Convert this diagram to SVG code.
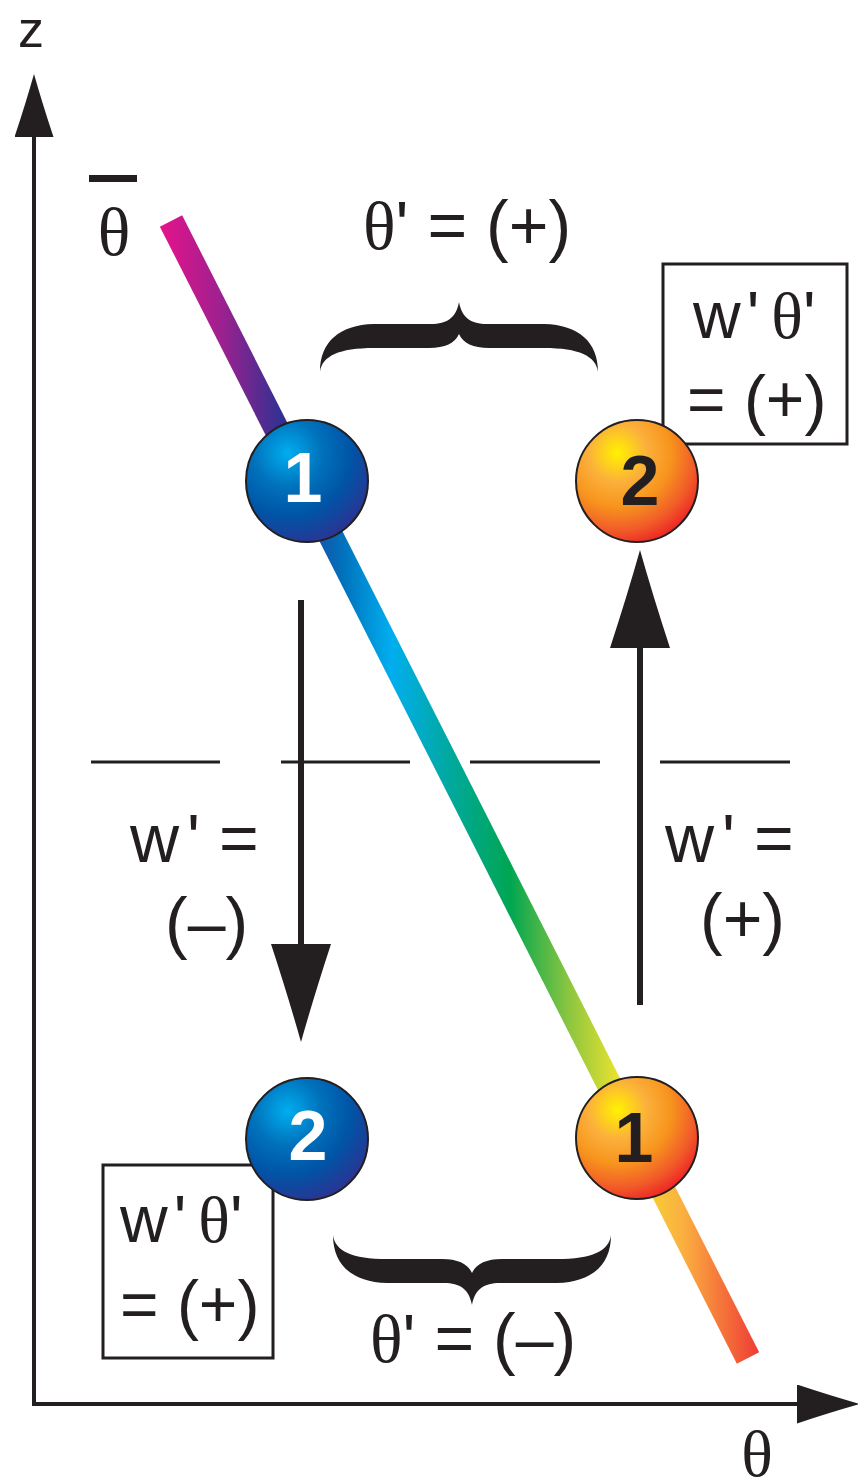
<svg xmlns="http://www.w3.org/2000/svg" width="858" height="1480" viewBox="0 0 858 1480">
<style>
.sans{font-family:"Liberation Sans",Arial,Helvetica,sans-serif;fill:#231f20}
.serif{font-family:"Liberation Serif","Times New Roman",serif}
.num{font-family:"Liberation Sans",Arial,Helvetica,sans-serif;font-weight:bold;font-size:70px;text-anchor:middle}
.lbl{font-size:68px}
.ax{stroke:#231f20;stroke-width:4;fill:none}
.arr{stroke:#231f20;stroke-width:6;fill:none}
.dash{stroke:#231f20;stroke-width:3}
.box{fill:#fff;stroke:#231f20;stroke-width:3}
.ball{stroke:#231f20;stroke-width:2}
</style>
<defs>
<linearGradient id="barGrad" gradientUnits="userSpaceOnUse" x1="165" y1="0" x2="760" y2="0">
<stop offset="0" stop-color="#e0148c"/>
<stop offset="0.09" stop-color="#a1208f"/>
<stop offset="0.2" stop-color="#2e3192"/>
<stop offset="0.3" stop-color="#0072bc"/>
<stop offset="0.38" stop-color="#00aeef"/>
<stop offset="0.48" stop-color="#00a99d"/>
<stop offset="0.58" stop-color="#00a651"/>
<stop offset="0.68" stop-color="#8dc63f"/>
<stop offset="0.77" stop-color="#f2e52e"/>
<stop offset="0.87" stop-color="#fbb040"/>
<stop offset="1" stop-color="#ef3a35"/>
</linearGradient>
<radialGradient id="blue" cx="0.34" cy="0.27" r="0.8" fx="0.34" fy="0.27">
<stop offset="0" stop-color="#00aeef"/>
<stop offset="0.35" stop-color="#0072bc"/>
<stop offset="0.65" stop-color="#0054a6"/>
<stop offset="1" stop-color="#2e3192"/>
</radialGradient>
<radialGradient id="orange" cx="0.34" cy="0.27" r="0.8" fx="0.34" fy="0.27">
<stop offset="0" stop-color="#fff200"/>
<stop offset="0.3" stop-color="#fbb03b"/>
<stop offset="0.55" stop-color="#f7941d"/>
<stop offset="0.8" stop-color="#f15a29"/>
<stop offset="1" stop-color="#ed1c24"/>
</radialGradient>
<marker id="head" markerUnits="userSpaceOnUse" viewBox="0 0 98 60" markerWidth="98" markerHeight="60" refX="0" refY="30" orient="auto">
<path d="M0,0 Q52,17 98,30 Q52,43 0,60 Z" fill="#231f20"/>
</marker>
<marker id="axhead" markerUnits="userSpaceOnUse" viewBox="0 0 63 39" markerWidth="63" markerHeight="39" refX="0" refY="19.5" orient="auto">
<path d="M0,0 Q33,11 63,19.5 Q33,28 0,39 Z" fill="#231f20"/>
</marker>
<path id="brace" d="M-139,0 C-139,-30 -120,-47 -85,-48 L-28,-48 C-12,-48 -3,-54 0,-70 C3,-54 12,-48 28,-48 L85,-48 C120,-47 139,-30 139,0 C137,-16 120,-24 85,-24 L30,-24 C14,-24 4,-29 0,-38 C-4,-29 -14,-24 -30,-24 L-85,-24 C-120,-24 -137,-16 -139,0 Z" fill="#231f20"/>
</defs>
<rect width="858" height="1480" fill="#fff"/>

<g id="axes">
<line class="ax" x1="34" y1="1406" x2="34" y2="137" marker-end="url(#axhead)"/>
<line class="ax" x1="32" y1="1404" x2="797" y2="1404" marker-end="url(#axhead)"/>
<text class="sans" x="18" y="47" font-size="52">z</text>
<text class="sans" x="757" y="1476" font-size="66" text-anchor="middle"><tspan class="serif">θ</tspan></text>
<rect x="89" y="175" width="48" height="7" fill="#231f20"/>
<text class="sans" x="114" y="255" font-size="68" text-anchor="middle"><tspan class="serif">θ</tspan></text>
</g>

<g id="dashes">
<line class="dash" x1="91" y1="762" x2="220" y2="762"/>
<line class="dash" x1="281" y1="762" x2="410" y2="762"/>
<line class="dash" x1="470" y1="762" x2="600" y2="762"/>
<line class="dash" x1="660" y1="762" x2="790" y2="762"/>
</g>

<g id="profile">
<line x1="171" y1="221" x2="748" y2="1358" stroke="url(#barGrad)" stroke-width="25"/>
</g>

<g id="connectors">
<line class="arr" x1="301" y1="600" x2="301" y2="944" marker-end="url(#head)"/>
<line class="arr" x1="640" y1="1005" x2="640" y2="648" marker-end="url(#head)"/>
</g>

<g id="braces">
<use href="#brace" transform="translate(459,372)"/>
<use href="#brace" transform="translate(472,1235) scale(1,-1)"/>
<text class="sans lbl" x="363" y="249"><tspan class="serif">θ</tspan>' = (+)</text>
<text class="sans lbl" x="370" y="1362"><tspan class="serif">θ</tspan>' = (–)</text>
</g>

<g id="box-top">
<rect class="box" x="663" y="264" width="184" height="180"/>
<text class="sans" font-size="66" x="693" y="338">w<tspan dx="6">'</tspan><tspan class="serif" dx="12">θ</tspan>'</text>
<text class="sans" font-size="66" x="687" y="422">= (+)</text>
</g>

<g id="box-bottom">
<rect class="box" x="103" y="1165" width="170" height="193"/>
<text class="sans" font-size="66" x="120" y="1242">w<tspan dx="6">'</tspan><tspan class="serif" dx="12">θ</tspan>'</text>
<text class="sans" font-size="66" x="120" y="1327">= (+)</text>
</g>

<g id="labels-w">
<text class="sans lbl" x="130" y="862">w<tspan dx="8">'</tspan> =</text>
<text class="sans lbl" x="165" y="946">(–)</text>
<text class="sans lbl" x="665" y="862">w<tspan dx="8">'</tspan> =</text>
<text class="sans lbl" x="700" y="942">(+)</text>
</g>

<g id="node-blue-1">
<circle class="ball" cx="307" cy="481" r="61" fill="url(#blue)"/>
<text class="num" x="303" y="502" fill="#fff">1</text>
</g>
<g id="node-orange-2">
<circle class="ball" cx="637" cy="481" r="61" fill="url(#orange)"/>
<text class="num" x="640" y="505" fill="#231f20">2</text>
</g>
<g id="node-blue-2">
<circle class="ball" cx="307" cy="1139" r="61" fill="url(#blue)"/>
<text class="num" x="308" y="1160" fill="#fff">2</text>
</g>
<g id="node-orange-1">
<circle class="ball" cx="637" cy="1138" r="61" fill="url(#orange)"/>
<text class="num" x="634" y="1162" fill="#231f20">1</text>
</g>
</svg>
